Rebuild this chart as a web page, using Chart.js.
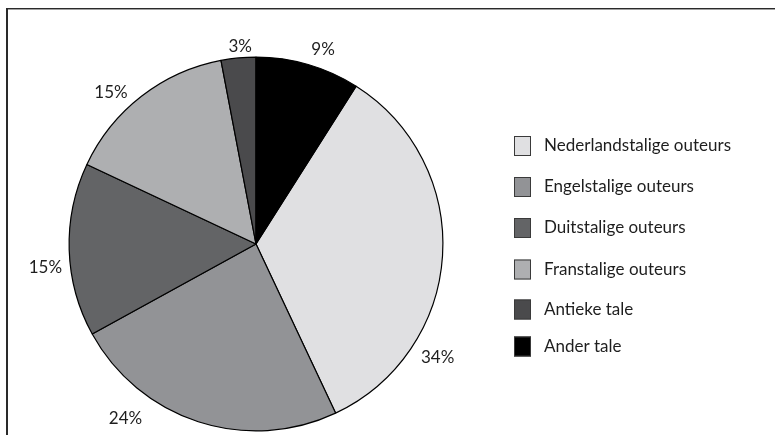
<!DOCTYPE html>
<html>
<head>
<meta charset="utf-8">
<script src="https://cdn.jsdelivr.net/npm/chart.js@4/dist/chart.umd.min.js"></script>
<style>
  html, body { margin: 0; padding: 0; background: #fff; }
  #wrap { position: relative; width: 775px; height: 435px; }
</style>
</head>
<body>
<div id="wrap"><canvas id="pie" width="775" height="435"></canvas></div>
<script>
// Verdeling van vertaalde titels per brontaal (%)
const categories = ['Nederlandstalige outeurs', 'Engelstalige outeurs', 'Duitstalige outeurs',
                    'Franstalige outeurs', 'Antieke tale', 'Ander tale'];
const shares = [34, 24, 15, 15, 3, 9];
const sliceColors = ['#e0e0e2', '#929396', '#636466', '#aeafb1', '#4a4a4c', '#000000'];

// label placement: angle (deg, clockwise from 12 o'clock) and gap beyond the rim
const labelAngle = [121.9, 216.8, 263.6, 316.3, 355.4, 19.0];
const labelGap = [27, 31, 25, 23, 11, 19];

// legend row centres (px)
const legendRowY = [146, 187, 228, 269.5, 309.5, 346.5];

const FONT = '17px Lato, "Open Sans", sans-serif';

const labelsPlugin = {
    id: 'pctLabels',
    afterDatasetsDraw(chart) {
        const ctx = chart.ctx;
        const arcs = chart.getDatasetMeta(0).data;
        ctx.save();
        ctx.font = FONT;
        ctx.fillStyle = '#1e1e1e';
        ctx.textAlign = 'center';
        ctx.textBaseline = 'middle';
        arcs.forEach((arc, i) => {
            const { x, y, outerRadius } = arc.getProps(['x', 'y', 'outerRadius'], true);
            const a = labelAngle[i] * Math.PI / 180;
            const r = outerRadius + labelGap[i];
            ctx.fillText(shares[i] + '%', x + r * Math.sin(a), y - r * Math.cos(a));
        });
        ctx.restore();
    }
};

const legendPlugin = {
    id: 'sideLegend',
    afterDraw(chart) {
        const ctx = chart.ctx;
        ctx.save();
        // frame round the figure
        ctx.fillStyle = '#2a2a2a';
        ctx.fillRect(6, 8, 769, 1);
        ctx.fillRect(6, 8, 2, 427);
        ctx.fillStyle = '#a0a0a0';
        ctx.fillRect(8, 9, 767, 1);

        ctx.font = FONT;
        ctx.textBaseline = 'middle';
        ctx.textAlign = 'left';
        categories.forEach((name, i) => {
            const cy = legendRowY[i];
            ctx.fillStyle = sliceColors[i];
            ctx.fillRect(514, cy - 10, 17, 20);
            ctx.strokeStyle = '#3a3a3a';
            ctx.lineWidth = 1;
            ctx.strokeRect(514.5, cy - 9.5, 16, 19);
            ctx.fillStyle = '#1e1e1e';
            ctx.fillText(name, 544, cy);
        });
        ctx.restore();
    }
};

new Chart(document.getElementById('pie'), {
    type: 'pie',
    data: {
        labels: categories,
        datasets: [{
            data: shares,
            backgroundColor: sliceColors,
            borderColor: '#000',
            borderWidth: 1.2,
            borderAlign: 'center'
        }]
    },
    options: {
        responsive: false,
        animation: false,
        rotation: shares[5] * 3.6,
        layout: { padding: { left: 68.5, top: 56.5, right: 331.5, bottom: 3.5 } },
        plugins: {
            legend: { display: false },
            tooltip: { enabled: false }
        }
    },
    plugins: [labelsPlugin, legendPlugin]
});
</script>
</body>
</html>
